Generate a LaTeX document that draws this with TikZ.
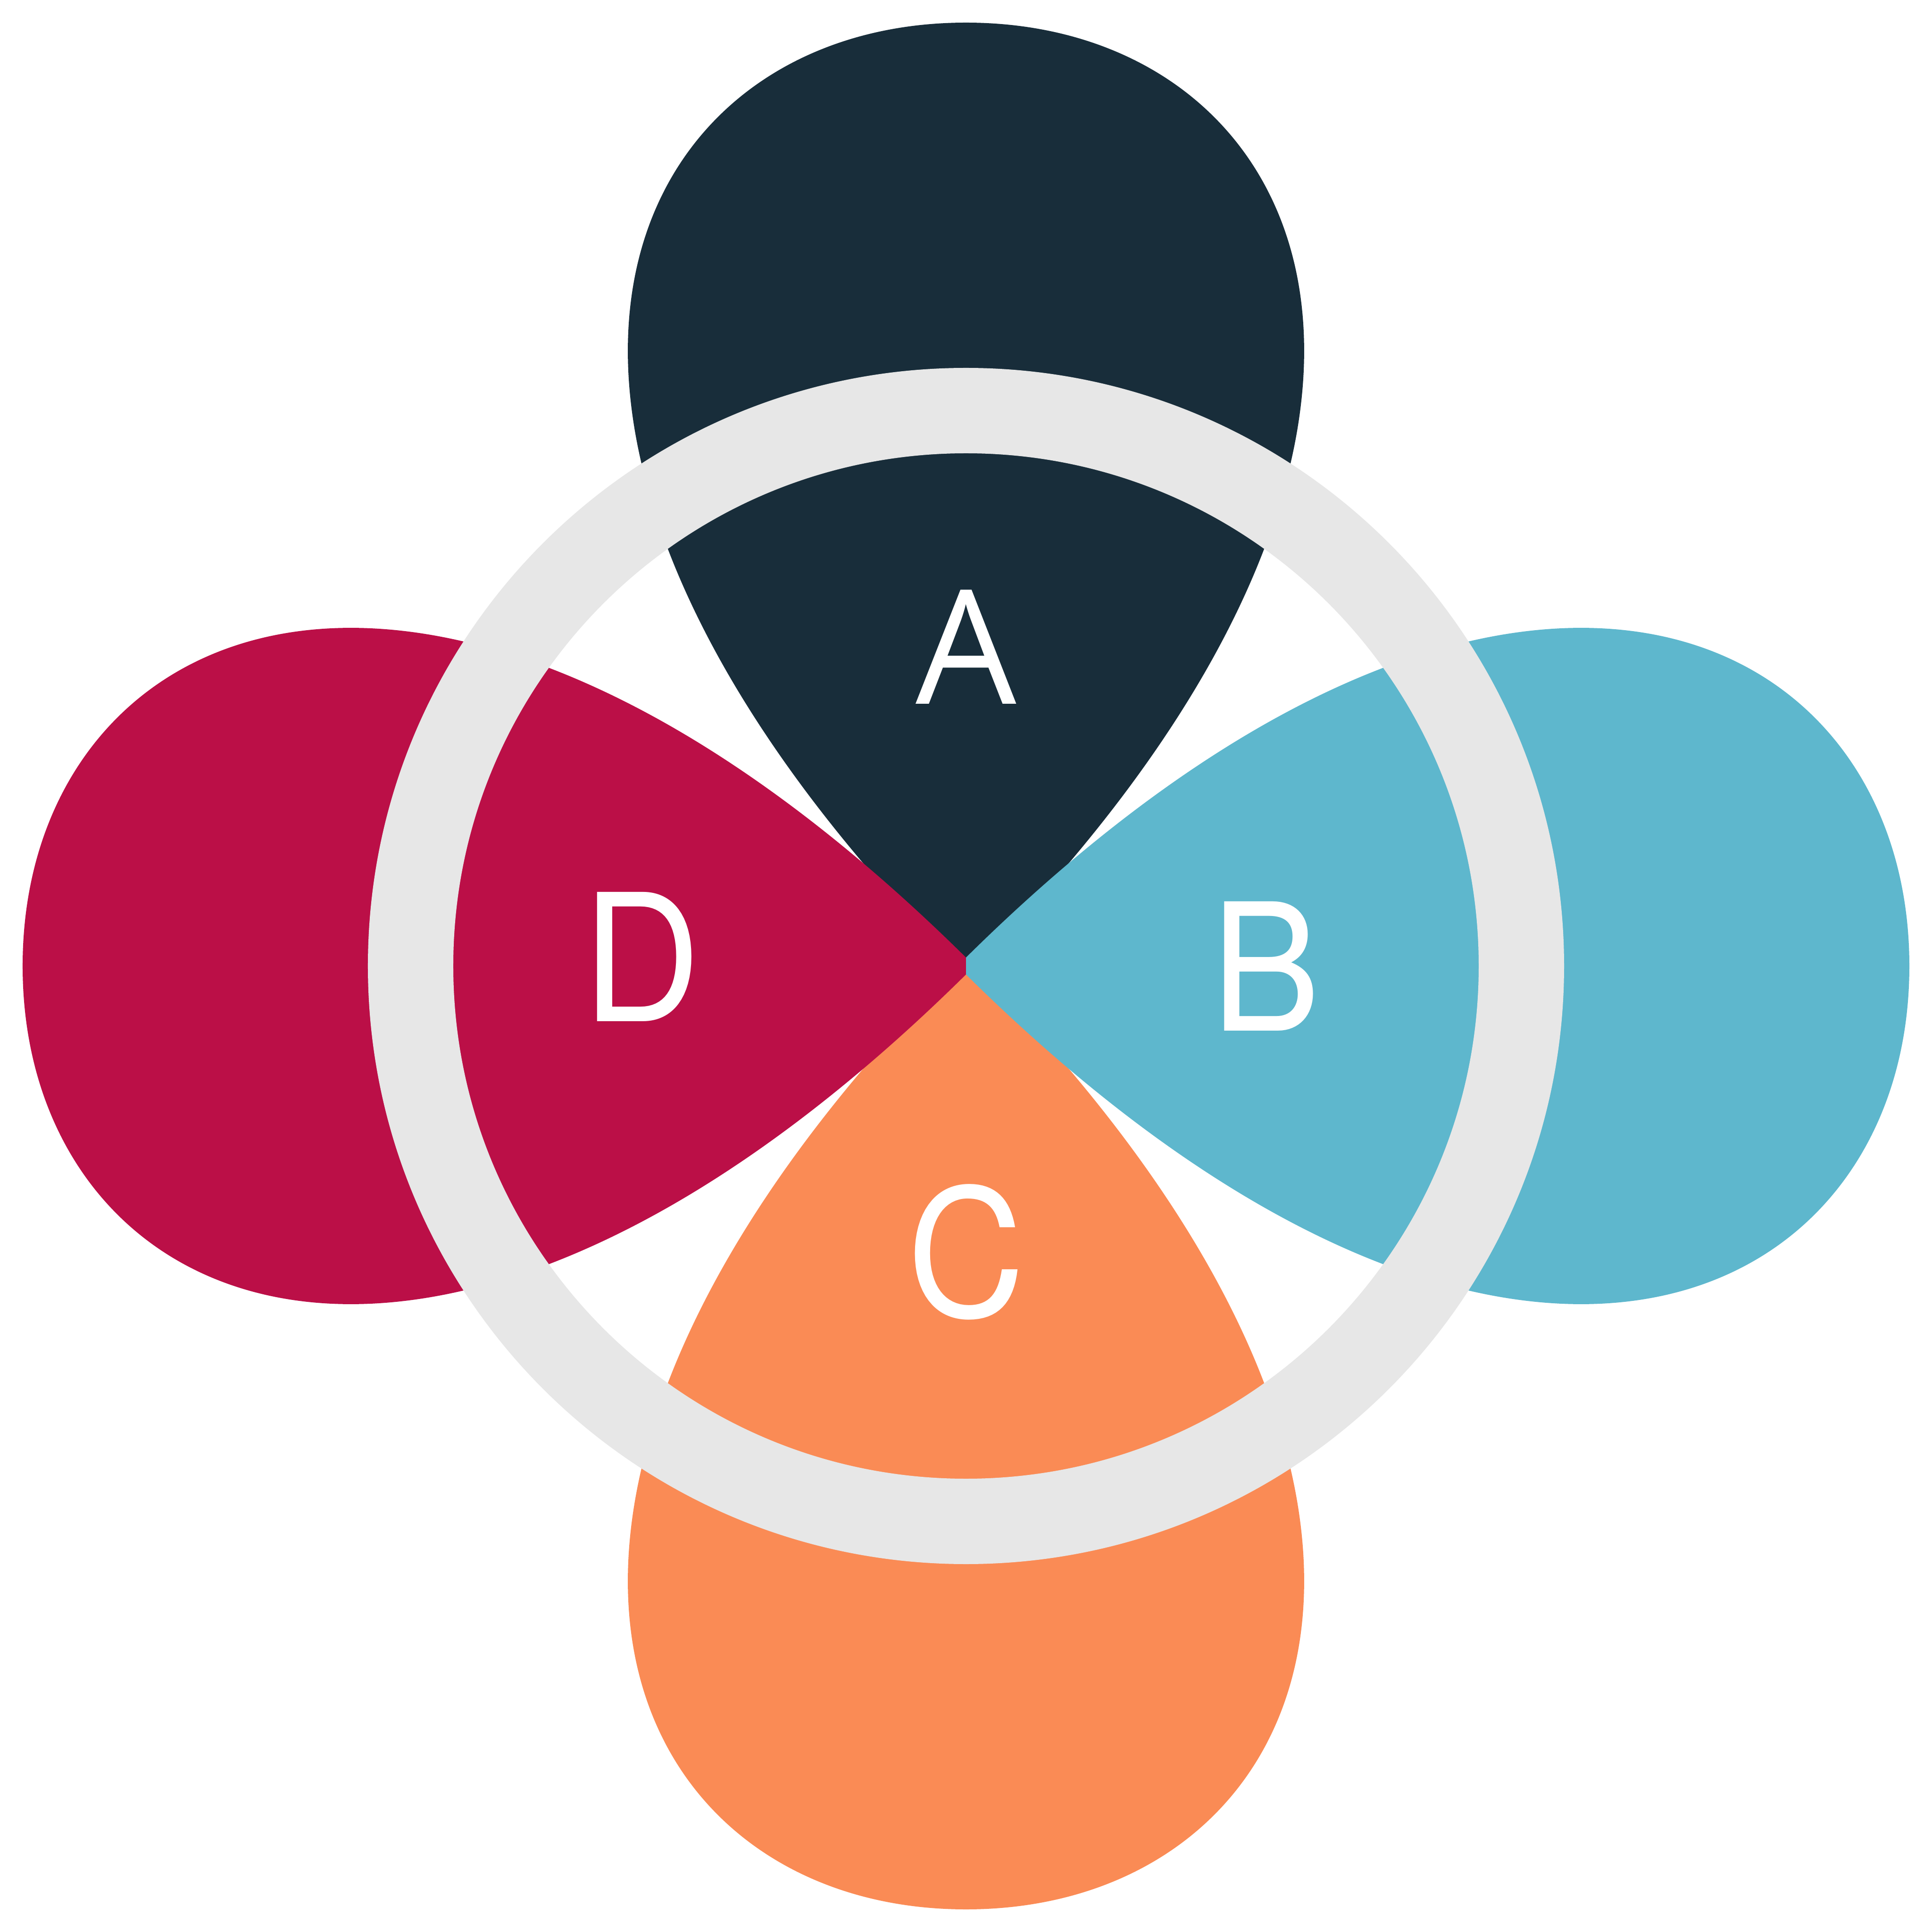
\documentclass[tikz,border=0pt]{standalone}
\usepackage{fontspec}
\setmainfont[FakeStretch=0.92]{TeX Gyre Heros}
\newfontfamily\fontA{Open Sans}
\usetikzlibrary{positioning}
\definecolor{cnavy}{HTML}{182D3A}
\definecolor{csky}{HTML}{5EB7CD}
\definecolor{corange}{HTML}{FA8B55}
\definecolor{ccrimson}{HTML}{BB0F47}
\definecolor{cring}{HTML}{E7E7E7}
\tikzset{
  petal/.style={fill=#1, draw=none},
  ring/.style={fill=cring, even odd rule},
  lbl/.style={text=white, inner sep=0pt, font=\fontsize{107}{110}\selectfont},
}
% one petal, tip just below the centre, pointing up
\newcommand{\petalshape}{(0,-0.18) .. controls (-11.5,11.32) and (-7.4,20) .. (0,20)
  .. controls (7.4,20) and (11.5,11.32) .. (0,-0.18) -- cycle}

\begin{document}
\begin{tikzpicture}
  \useasboundingbox (-20.48,-20.48) rectangle (20.48,20.48);
  \coordinate (c) at (0,0);
  % petals
  \fill[petal=cnavy] \petalshape;
  \fill[petal=corange, rotate=180] \petalshape;
  \fill[petal=ccrimson, rotate=90] \petalshape;
  \begin{scope}
    \clip (0,-20.5) rectangle (20.5,20.5);
    \fill[petal=csky, rotate=-90] \petalshape;
  \end{scope}
  % ring
  \fill[ring] (c) circle (12.68) (c) circle (10.87);
  % labels
  \node[lbl, font=\fontA\fontsize{96}{100}\selectfont] (la) at (0,6.76) {A};
  \node[lbl] (lb) at (6.36,0) {B};
  \node[lbl] (lc) at (0,-6.06) {C};
  \node[lbl] (ld) at (-6.88,0.2) {D};
\end{tikzpicture}
\end{document}
